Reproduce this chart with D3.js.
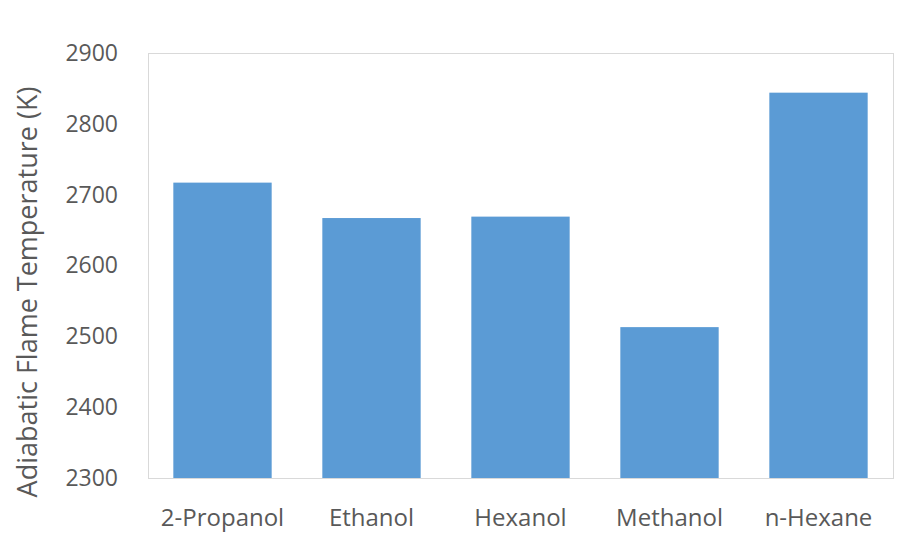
<!DOCTYPE html>
<html>
<head>
<meta charset="utf-8">
<script src="https://cdn.jsdelivr.net/npm/d3@7"></script>
<style>
  body { margin: 0; background: #fff; }
  svg { display: block; font-family: 'Open Sans', sans-serif; }
</style>
</head>
<body>
<div id="chart"></div>
<script>
// values
const fuels = ["2-Propanol", "Ethanol", "Hexanol", "Methanol", "n-Hexane"];
const flameTemps = [2717, 2667, 2669, 2513, 2844];
const yTicks = [2300, 2400, 2500, 2600, 2700, 2800, 2900];
const yTitle = "Adiabatic Flame Temperature (K)";

const width = 920, height = 533;
const margin = { top: 53, right: 27, bottom: 55, left: 148 };
const innerW = width - margin.left - margin.right;
const innerH = height - margin.top - margin.bottom;

const svg = d3.select("#chart").append("svg")
    .attr("width", width)
    .attr("height", height);

const g = svg.append("g")
    .attr("transform", `translate(${margin.left},${margin.top})`);

const x = d3.scaleBand()
    .domain(fuels)
    .range([0, innerW])
    .paddingInner(0.34)
    .paddingOuter(0.17);

const y = d3.scaleLinear()
    .domain([2300, 2900])
    .range([innerH, 0]);

// plot area frame
g.append("rect")
    .attr("x", 0.5)
    .attr("y", 0.5)
    .attr("width", innerW)
    .attr("height", innerH)
    .attr("fill", "none")
    .attr("stroke", "#d9d9d9");

// bars
g.selectAll(".bar")
    .data(fuels)
    .enter().append("rect")
    .attr("class", "bar")
    .attr("x", d => x(d))
    .attr("width", x.bandwidth())
    .attr("y", (d, i) => y(flameTemps[i]))
    .attr("height", (d, i) => y(2300) - y(flameTemps[i]))
    .attr("fill", "#5b9bd5");

// y axis
const yAxis = g.append("g")
    .call(d3.axisLeft(y).tickValues(yTicks).tickFormat(d3.format("d")).tickSize(0).tickPadding(30));
yAxis.select(".domain").remove();
yAxis.selectAll("text")
    .style("font-size", "23px")
    .style("font-family", "'Open Sans', sans-serif")
    .attr("fill", "#595959");

// x axis
const xAxis = g.append("g")
    .attr("transform", `translate(0,${innerH})`)
    .call(d3.axisBottom(x).tickSize(0).tickPadding(31));
xAxis.select(".domain").remove();
xAxis.selectAll("text")
    .style("font-size", "24px")
    .style("font-family", "'Open Sans', sans-serif")
    .attr("fill", "#595959");

// y axis title
svg.append("text")
    .attr("transform", "translate(28,292) rotate(-90)")
    .attr("dy", "0.35em")
    .style("text-anchor", "middle")
    .style("font-size", "27px")
    .attr("fill", "#595959")
    .text(yTitle);
</script>
</body>
</html>
